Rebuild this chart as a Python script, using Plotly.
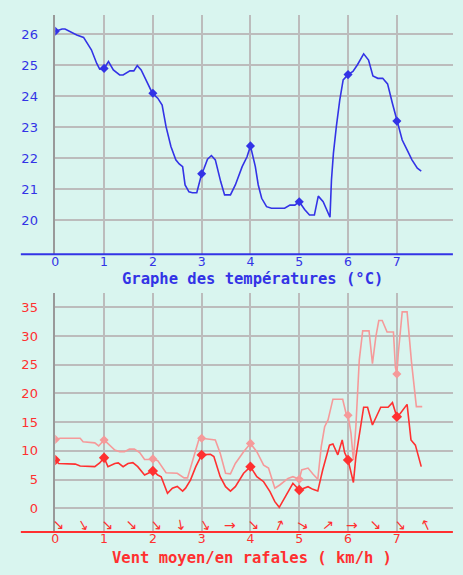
import plotly.graph_objs as go
from plotly.subplots import make_subplots

# temperature (°C)
temp_x = [0, 0.14, 0.2, 0.3, 0.44, 0.58, 0.74, 0.85, 0.91, 1.0,
          1.09, 1.19, 1.32, 1.39, 1.53, 1.61, 1.68, 1.76, 1.86, 1.99,
          2.1, 2.19, 2.27, 2.37, 2.47, 2.54, 2.61, 2.66, 2.74, 2.81,
          2.9, 2.95, 3.0, 3.05, 3.12, 3.2, 3.28, 3.39, 3.47, 3.59,
          3.69, 3.83, 3.93, 4.0, 4.1, 4.16, 4.23, 4.33, 4.43, 4.7,
          4.81, 4.91, 5.0, 5.11, 5.21, 5.31, 5.39, 5.49, 5.56, 5.63,
          5.66, 5.7, 5.76, 5.83, 5.9, 6.0, 6.1, 6.19, 6.32, 6.42,
          6.51, 6.61, 6.71, 6.81, 6.91, 7.0, 7.11, 7.21, 7.31, 7.42, 7.5]
temp = [26.1, 26.17, 26.17, 26.09, 25.98, 25.9, 25.5, 25.06, 24.88, 24.9,
        25.12, 24.85, 24.69, 24.69, 24.82, 24.82, 24.99, 24.85, 24.53, 24.1,
        23.94, 23.72, 23.02, 22.38, 21.95, 21.82, 21.73, 21.14, 20.92, 20.89,
        20.89, 21.25, 21.5, 21.68, 21.97, 22.09, 21.95, 21.25, 20.82, 20.82,
        21.14, 21.73, 22.05, 22.4, 21.73, 21.14, 20.71, 20.44, 20.39, 20.39,
        20.49, 20.49, 20.6, 20.35, 20.17, 20.17, 20.78, 20.6, 20.33, 20.1,
        21.3, 22.16, 23.02, 23.88, 24.53, 24.7, 24.8, 25.01, 25.37, 25.17,
        24.66, 24.58, 24.58, 24.4, 23.77, 23.2, 22.59, 22.27, 21.95, 21.68, 21.59]

days = [0, 1, 2, 3, 4, 5, 6, 7]
temp_marks = [26.1, 24.9, 24.1, 21.5, 22.4, 20.6, 24.7, 23.2]

# wind (km/h)
gust_x = [0, 0.1, 0.51, 0.57, 0.81, 0.89, 1.0, 1.08, 1.22, 1.32,
          1.42, 1.52, 1.62, 1.73, 1.83, 1.93, 2.0, 2.1, 2.27, 2.5,
          2.64, 2.71, 2.84, 2.94, 3.0, 3.18, 3.28, 3.38, 3.49, 3.59,
          3.69, 3.86, 4.0, 4.13, 4.27, 4.37, 4.5, 4.6, 4.77, 4.87,
          5.0, 5.05, 5.18, 5.28, 5.38, 5.45, 5.52, 5.59, 5.69, 5.89,
          5.96, 6.0, 6.06, 6.11, 6.16, 6.23, 6.3, 6.43, 6.5, 6.57,
          6.63, 6.7, 6.8, 6.93, 6.97, 7.0, 7.03, 7.11, 7.21, 7.3, 7.4, 7.52]
gust = [12.0, 12.2, 12.2, 11.6, 11.4, 10.85, 11.9, 11.3, 10.15, 9.86,
        9.86, 10.3, 10.3, 9.7, 8.5, 8.5, 8.6, 8.3, 6.2, 6.1,
        5.3, 5.3, 9.0, 11.9, 12.2, 12.0, 11.9, 9.6, 6.1, 6.0,
        7.8, 9.86, 11.3, 9.86, 7.5, 7.0, 3.5, 4.06, 5.2, 5.5,
        5.05, 6.67, 7.0, 5.97, 5.05, 10.7, 14.2, 15.4, 19.0, 19.0,
        16.5, 16.2, 13.1, 8.4, 14.2, 25.8, 30.9, 30.9, 25.2, 29.9,
        32.7, 32.7, 30.7, 30.7, 24.6, 23.4, 27.0, 34.2, 34.2, 25.5, 17.7, 17.7]

mean_x = [0, 0.07, 0.41, 0.51, 0.81, 0.91, 1.0, 1.08, 1.22, 1.29,
          1.39, 1.49, 1.59, 1.69, 1.83, 1.91, 2.0, 2.1, 2.17, 2.3,
          2.4, 2.5, 2.61, 2.67, 2.77, 2.88, 3.0, 3.18, 3.25, 3.38,
          3.49, 3.59, 3.69, 3.86, 4.0, 4.13, 4.27, 4.4, 4.5, 4.59,
          4.7, 4.87, 5.0, 5.18, 5.28, 5.38, 5.48, 5.62, 5.69, 5.79,
          5.88, 5.93, 6.0, 6.07, 6.11, 6.16, 6.25, 6.32, 6.4, 6.5,
          6.67, 6.82, 6.91, 6.96, 7.0, 7.07, 7.21, 7.29, 7.38, 7.5]
mean = [8.4, 7.8, 7.7, 7.37, 7.25, 7.9, 8.8, 7.25, 7.8, 7.9,
        7.25, 7.8, 7.95, 7.25, 5.8, 6.1, 6.5, 5.8, 5.5, 2.6,
        3.5, 3.8, 3.0, 3.5, 4.9, 7.25, 9.3, 9.4, 9.0, 5.5,
        3.76, 3.0, 3.76, 6.1, 7.25, 5.5, 4.63, 2.9, 1.15, 0.17,
        1.74, 4.35, 3.19, 3.76, 3.3, 3.0, 6.67, 11.0, 11.2, 9.3,
        11.9, 9.7, 8.4, 6.1, 4.5, 8.9, 14.2, 17.6, 17.6, 14.5,
        17.6, 17.6, 18.4, 16.8, 15.95, 16.5, 18.1, 11.9, 11.0, 7.25]

gust_marks = [12.0, 11.9, 8.6, 12.2, 11.3, 5.05, 16.2, 23.4]
mean_marks = [8.4, 8.8, 6.5, 9.3, 7.25, 3.19, 8.4, 15.95]

# wind direction arrows, every half unit (screen angle of the arrow, clockwise)
dir_x = [0, 0.5, 1, 1.5, 2, 2.5, 3, 3.5, 4, 4.5, 5, 5.5, 6, 6.5, 7, 7.5]
dir_angle = [45, 60, 45, 45, 50, 80, 60, 0, 45, -65, 30, -40, 0, 45, 50, -115]

BG = '#d9f5ef'
GRID = '#bcbcbc'
BLUE = '#3333e6'
RED = '#ff3030'
PINK = '#f59a9a'

fig = make_subplots(rows=2, cols=1)

fig.add_trace(go.Scatter(x=temp_x, y=temp, mode='lines',
                         line=dict(color=BLUE, width=1.6)), row=1, col=1)
fig.add_trace(go.Scatter(x=days, y=temp_marks, mode='markers',
                         marker=dict(symbol='diamond', size=7, color=BLUE)), row=1, col=1)

fig.add_trace(go.Scatter(x=gust_x, y=gust, mode='lines',
                         line=dict(color=PINK, width=1.6)), row=2, col=1)
fig.add_trace(go.Scatter(x=mean_x, y=mean, mode='lines',
                         line=dict(color=RED, width=1.6)), row=2, col=1)
fig.add_trace(go.Scatter(x=days, y=gust_marks, mode='markers',
                         marker=dict(symbol='diamond', size=7, color=PINK)), row=2, col=1)
fig.add_trace(go.Scatter(x=days, y=mean_marks, mode='markers',
                         marker=dict(symbol='diamond', size=8, color=RED)), row=2, col=1)

xcommon = dict(range=[0, 8.146], tickvals=days, showgrid=True, gridcolor=GRID,
               gridwidth=1.5, zeroline=False, showline=False, ticks='',
               ticklabelstandoff=-2, tickfont=dict(family='DejaVu Sans', size=12.5))
ycommon = dict(showgrid=True, gridcolor=GRID, gridwidth=1.5, zeroline=False,
               showline=True, linecolor='#999999', linewidth=1.5, ticks='',
               ticklabelstandoff=13, tickfont=dict(family='DejaVu Sans', size=13))

fig.update_xaxes(domain=[0.1117, 0.9777], **xcommon)
fig.update_xaxes(tickfont_color=BLUE, row=1, col=1)
fig.update_xaxes(tickfont_color=RED, row=2, col=1)
fig.update_yaxes(**ycommon)
fig.update_yaxes(domain=[0.5577, 0.9739], range=[18.903, 26.623],
                 tickvals=[20, 21, 22, 23, 24, 25, 26], tickfont_color=BLUE, row=1, col=1)
fig.update_yaxes(domain=[0.0748, 0.4904], range=[-4.127, 37.49],
                 tickvals=[0, 5, 10, 15, 20, 25, 30, 35], tickfont_color=RED, row=2, col=1)

# coloured base lines under each chart
fig.add_shape(type='line', xref='paper', yref='paper', x0=0.0367, x1=0.978,
              y0=0.5577, y1=0.5577, line=dict(color=BLUE, width=2))
fig.add_shape(type='line', xref='paper', yref='paper', x0=0.0367, x1=0.978,
              y0=0.0748, y1=0.0748, line=dict(color=RED, width=2))

title_font = dict(family='DejaVu Sans Mono', size=15.5)
fig.add_annotation(text='<b>Graphe des températures (°C)</b>', xref='paper', yref='paper',
                   x=0.542, y=0.514, xanchor='center', yanchor='middle', showarrow=False,
                   font=dict(color=BLUE, **title_font))
fig.add_annotation(text='<b>Vent moyen/en rafales ( km/h )</b>', xref='paper', yref='paper',
                   x=0.54, y=0.030, xanchor='center', yanchor='middle', showarrow=False,
                   font=dict(color=RED, **title_font))

for dx, ang in zip(dir_x, dir_angle):
    fig.add_annotation(text='→', x=dx, y=-2.9, xref='x2', yref='y2', xshift=4,
                       textangle=ang, showarrow=False,
                       font=dict(family='DejaVu Sans', size=14, color=RED))

fig.update_layout(width=463, height=575, margin=dict(l=0, r=0, t=0, b=0),
                  paper_bgcolor=BG, plot_bgcolor=BG, showlegend=False)

fig.write_html('out.html', config={'displayModeBar': False},
               post_script="document.body.style.margin='0';"
                           "document.body.style.overflow='hidden';"
                           "document.body.style.background='" + BG + "';")
